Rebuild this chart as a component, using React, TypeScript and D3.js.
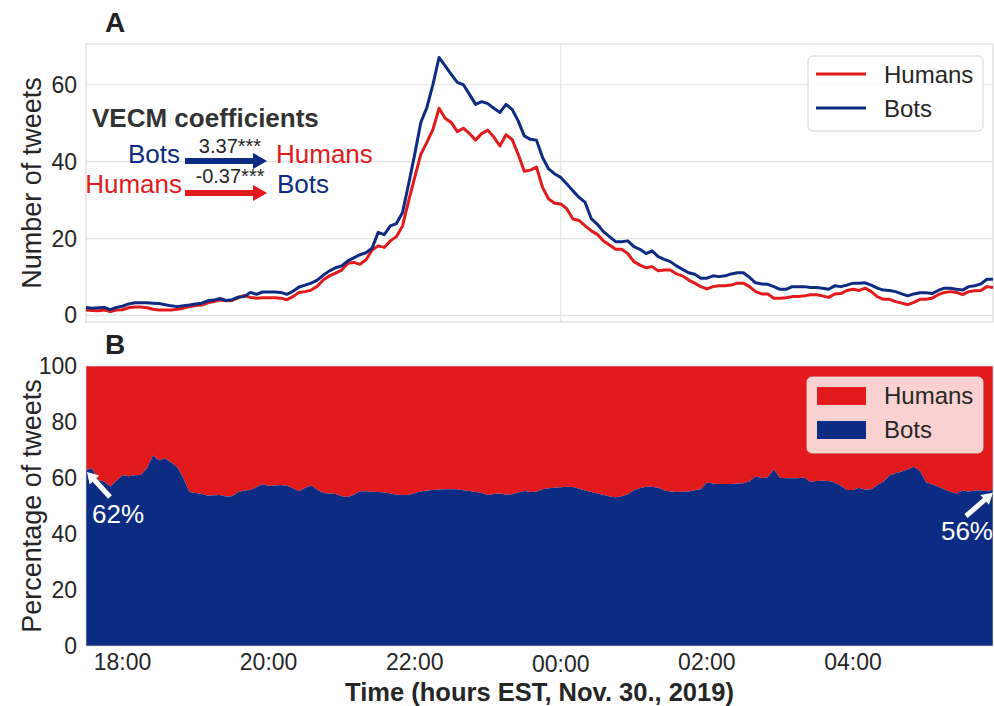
import React from 'react';
import * as d3 from 'd3';

// Panel A: number of tweets per 5-minute bin
const humans = [
  1.4, 1.3, 1.2, 1.4, 1.0, 1.4, 1.5, 2.0, 2.2, 2.2,
  2.0, 1.6, 1.4, 1.4, 1.4, 1.6, 1.9, 2.3, 2.6, 2.7,
  3.3, 3.6, 4.0, 3.8, 3.9, 4.6, 5.2, 4.7, 4.5, 4.6,
  4.6, 4.6, 4.5, 4.1, 4.9, 6.0, 6.2, 6.6, 7.6, 9.3,
  10.3, 11.0, 11.8, 13.6, 13.8, 13.3, 14.5, 17.0, 18.1, 17.7,
  19.4, 20.5, 23.3, 29.8, 35.9, 41.9, 45.0, 48.4, 53.9, 51.3,
  50.2, 47.8, 48.7, 47.3, 45.6, 47.3, 48.2, 46.4, 44.1, 47.0,
  45.8, 41.9, 37.5, 37.8, 38.6, 33.3, 30.3, 29.2, 29.0, 27.7,
  25.1, 24.7, 23.3, 22.0, 21.1, 19.4, 18.3, 17.2, 17.2, 16.1,
  14.0, 13.1, 12.4, 12.7, 11.6, 11.8, 11.8, 10.8, 10.3, 9.2,
  8.4, 7.5, 6.9, 7.5, 7.7, 7.7, 7.9, 8.4, 8.4, 7.5,
  6.2, 5.6, 5.6, 4.5, 4.5, 4.6, 4.9, 4.9, 5.1, 5.4,
  5.4, 5.1, 4.7, 5.6, 5.7, 6.5, 6.8, 6.5, 7.1, 6.2,
  4.9, 4.2, 4.2, 3.6, 3.2, 2.8, 3.4, 4.2, 4.2, 4.5,
  5.4, 6.0, 6.2, 6.0, 5.4, 6.2, 6.4, 6.5, 7.5, 7.3,
];

const bots = [
  2.1, 1.9, 2.0, 2.1, 1.5, 2.1, 2.4, 3.0, 3.3, 3.3,
  3.3, 3.2, 3.1, 2.8, 2.5, 2.3, 2.5, 2.7, 3.0, 3.2,
  3.8, 4.0, 4.4, 3.9, 4.1, 4.8, 4.9, 6.0, 5.5, 6.1,
  6.1, 6.1, 6.0, 5.5, 6.3, 7.4, 7.9, 8.4, 9.2, 10.5,
  11.6, 12.4, 12.9, 14.2, 15.0, 15.8, 16.3, 17.5, 21.6, 21.0,
  23.3, 23.9, 26.8, 34.2, 41.9, 50.2, 54.1, 60.1, 67.1, 64.9,
  62.7, 60.6, 60.0, 57.5, 54.9, 55.6, 55.1, 53.9, 52.8, 54.9,
  53.6, 50.6, 46.7, 45.8, 45.6, 41.1, 38.1, 36.8, 35.9, 34.2,
  32.4, 30.7, 29.4, 25.2, 23.7, 21.8, 20.5, 19.2, 19.2, 19.4,
  17.9, 17.2, 16.1, 16.8, 15.3, 14.6, 14.0, 12.9, 12.0, 11.1,
  10.7, 9.7, 9.7, 10.3, 10.1, 10.3, 10.8, 11.1, 11.1, 9.9,
  8.5, 8.2, 8.1, 7.5, 6.8, 6.8, 7.5, 7.5, 7.5, 7.3,
  7.3, 7.1, 6.8, 7.7, 7.5, 7.9, 8.4, 8.4, 8.5, 7.9,
  7.1, 6.6, 6.5, 6.2, 5.6, 5.1, 5.6, 5.9, 5.9, 5.7,
  6.5, 7.1, 7.1, 6.8, 6.6, 7.5, 7.7, 8.2, 9.4, 9.4,
];

// Panel B: percentage of tweets from bots (rest = humans)
const botsShare = [
  62.9, 63.5, 59.3, 58.7, 57.0, 59.0, 61.0, 60.6, 61.0, 61.1,
  63.5, 68.0, 66.3, 67.0, 65.5, 63.8, 59.9, 55.0, 54.6, 54.4,
  53.7, 53.8, 53.9, 53.4, 53.5, 55.0, 55.5, 55.7, 56.8, 57.8,
  57.2, 57.3, 57.5, 57.2, 56.3, 55.3, 56.5, 57.3, 55.8, 54.6,
  54.5, 54.3, 53.5, 53.2, 54.0, 55.3, 55.3, 55.1, 55.0, 54.8,
  54.5, 54.0, 53.9, 53.9, 54.6, 55.2, 55.5, 55.7, 55.9, 56.0,
  56.0, 56.0, 55.6, 55.4, 55.0, 54.6, 53.9, 54.3, 54.5, 54.0,
  54.2, 54.8, 55.4, 55.0, 55.1, 56.0, 56.3, 56.5, 56.7, 56.9,
  56.8, 56.2, 55.5, 55.0, 54.5, 54.0, 53.4, 53.1, 53.5, 54.2,
  55.6, 56.3, 56.9, 56.9, 56.5, 55.5, 55.2, 55.0, 55.1, 55.2,
  55.6, 56.0, 58.4, 58.0, 57.9, 57.9, 57.9, 58.0, 58.1, 58.8,
  60.5, 60.0, 60.3, 63.0, 60.1, 59.9, 59.9, 59.9, 60.2, 58.7,
  58.9, 59.0, 58.9, 58.4, 57.2, 55.7, 55.7, 56.5, 55.8, 56.0,
  57.5, 58.7, 61.0, 61.7, 62.3, 63.0, 64.0, 62.5, 58.5, 57.7,
  57.0, 55.9, 55.1, 54.5, 55.5, 55.2, 55.5, 55.6, 55.3, 55.8,
];

const yTicksA = [0, 20, 40, 60];
const yTicksB = [0, 20, 40, 60, 80, 100];
const seriesNames = ['Humans', 'Bots'];
const startTime = new Date(2019, 10, 30, 17, 30);
const stepMinutes = 5;
const times = humans.map((_, i) => d3.timeMinute.offset(startTime, i * stepMinutes));

const RED = '#e31a1c';
const BLUE = '#0c2c84';
const TXT = '#262626';
const FONT = '"Liberation Sans", Arial, Helvetica, sans-serif';

const W = 994;
const H = 706;
const LEFT = 86;
const RIGHT = 993;
const A_TOP = 44;
const A_BOTTOM = 322;
const B_TOP = 366;
const B_BOTTOM = 646;

function arrowPath(x1: number, y1: number, x2: number, y2: number, sw: number, hw: number, hl: number) {
  const dx = x2 - x1, dy = y2 - y1;
  const L = Math.hypot(dx, dy);
  const ux = dx / L, uy = dy / L;
  const px = -uy, py = ux;
  const bx = x2 - ux * hl, by = y2 - uy * hl;
  const pts = [
    [x1 + px * sw / 2, y1 + py * sw / 2],
    [bx + px * sw / 2, by + py * sw / 2],
    [bx + px * hw / 2, by + py * hw / 2],
    [x2, y2],
    [bx - px * hw / 2, by - py * hw / 2],
    [bx - px * sw / 2, by - py * sw / 2],
    [x1 - px * sw / 2, y1 - py * sw / 2],
  ];
  return 'M' + pts.map(p => p[0].toFixed(2) + ',' + p[1].toFixed(2)).join('L') + 'Z';
}

export default function App() {
  const x = d3.scaleTime().domain([times[0], times[times.length - 1]]).range([LEFT, RIGHT]);
  const yA = d3.scaleLinear().domain([-1.7, 70.6]).range([A_BOTTOM, A_TOP]);
  const yB = d3.scaleLinear().domain([0, 100]).range([B_BOTTOM, B_TOP]);

  const line = d3.line<number>().x((_, i) => x(times[i])).y(d => yA(d));
  const areaBots = d3.area<number>().x((_, i) => x(times[i])).y0(yB(0)).y1(d => yB(d));
  const areaHumans = d3.area<number>().x((_, i) => x(times[i])).y0(d => yB(d)).y1(yB(100));

  const xTicks = x.ticks(d3.timeHour.every(2) as any);
  const fmt = d3.timeFormat('%H:%M');
  const midnight = xTicks.filter(d => d.getHours() === 0);

  const n = times.length;
  const startTip = [x(times[0]) + 1, yB(botsShare[0]) + 2];
  const endTip = [x(times[n - 1]), yB(botsShare[n - 1]) + 3];

  return (
    <div style={{ position: 'absolute', left: 0, top: 0 }}>
      <svg width={W} height={H} viewBox={`0 0 ${W} ${H}`} style={{ display: 'block', background: '#fff' }} fontFamily={FONT}>
        <rect x={0} y={0} width={W} height={H} fill="#fff" />

        {/* ---------- Panel A ---------- */}
        <g>
          {yTicksA.map(t => (
            <line key={'ga' + t} x1={LEFT} x2={RIGHT} y1={yA(t)} y2={yA(t)} stroke="#e3e3e3" strokeWidth={1.2} />
          ))}
          {midnight.map((d, i) => (
            <line key={'gv' + i} x1={x(d)} x2={x(d)} y1={A_TOP} y2={A_BOTTOM} stroke="#e3e3e3" strokeWidth={1.2} />
          ))}
          <rect x={LEFT} y={A_TOP} width={RIGHT - LEFT} height={A_BOTTOM - A_TOP} fill="none" stroke="#dadada" strokeWidth={1.2} />
          <path d={line(humans) || ''} fill="none" stroke={RED} strokeWidth={3} strokeLinejoin="round" />
          <path d={line(bots) || ''} fill="none" stroke={BLUE} strokeWidth={3} strokeLinejoin="round" />
          {yTicksA.map(t => (
            <text key={'ta' + t} x={77} y={yA(t) + 8} textAnchor="end" fontSize={23} fill={TXT}>{t}</text>
          ))}
          <text transform={`translate(41,${(A_TOP + A_BOTTOM) / 2}) rotate(-90)`} textAnchor="middle" fontSize={27} fill={TXT}>Number of tweets</text>
          <text x={115} y={32} textAnchor="middle" fontSize={28} fontWeight="bold" fill="#222">A</text>

          {/* VECM annotation */}
          <text x={92} y={127} fontSize={26} fontWeight="bold" fill="#333">VECM coefficients</text>
          <text x={180} y={163} textAnchor="end" fontSize={26} fill={BLUE}>Bots</text>
          <path d={arrowPath(185, 161, 267, 161, 6, 16, 14)} fill={BLUE} />
          <text x={230} y={153} textAnchor="middle" fontSize={20} fill={TXT}>3.37***</text>
          <text x={276} y={163} fontSize={26} fill={RED}>Humans</text>
          <text x={182} y={193} textAnchor="end" fontSize={26} fill={RED}>Humans</text>
          <path d={arrowPath(185, 193, 267, 193, 6, 16, 14)} fill={RED} />
          <text x={230} y={183} textAnchor="middle" fontSize={20} fill={TXT}>-0.37***</text>
          <text x={277} y={193} fontSize={26} fill={BLUE}>Bots</text>

          {/* legend A */}
          <rect x={808} y={56} width={175} height={75} rx={5} fill="#fff" fillOpacity={0.8} stroke="#d4d4d4" strokeWidth={1} />
          {seriesNames.map((s, i) => (
            <g key={'la' + s}>
              <line x1={816} x2={866} y1={74 + i * 34} y2={74 + i * 34} stroke={i === 0 ? RED : BLUE} strokeWidth={3} />
              <text x={884} y={83 + i * 34} fontSize={24} fill={TXT}>{s}</text>
            </g>
          ))}
        </g>

        {/* ---------- Panel B ---------- */}
        <g>
          <path d={areaHumans(botsShare) || ''} fill={RED} />
          <path d={areaBots(botsShare) || ''} fill={BLUE} />
          <rect x={LEFT} y={B_TOP} width={RIGHT - LEFT} height={B_BOTTOM - B_TOP} fill="none" stroke="#e6e6e6" strokeOpacity={0.6} strokeWidth={1} />
          {yTicksB.map(t => (
            <text key={'tb' + t} x={77} y={yB(t) + 8} textAnchor="end" fontSize={23} fill={TXT}>{t}</text>
          ))}
          {xTicks.map((d, i) => (
            <text key={'tx' + i} x={x(d)} y={d.getHours() === 0 ? 672 : 670} textAnchor="middle" fontSize={23} fill={TXT}>{fmt(d)}</text>
          ))}
          <text transform={`translate(41,${(B_TOP + B_BOTTOM) / 2}) rotate(-90)`} textAnchor="middle" fontSize={27} fill={TXT}>Percentage of tweets</text>
          <text x={(LEFT + RIGHT) / 2} y={701} textAnchor="middle" fontSize={25.5} fontWeight="bold" fill={TXT}>Time (hours EST, Nov. 30., 2019)</text>
          <text x={115} y={354} textAnchor="middle" fontSize={28} fontWeight="bold" fill="#222">B</text>

          {/* legend B */}
          <rect x={807} y={377} width={176} height={76} rx={5} fill="#fff" fillOpacity={0.8} stroke="#e8e8e8" strokeOpacity={0.8} strokeWidth={1} />
          {seriesNames.map((s, i) => (
            <g key={'lb' + s}>
              <rect x={817} y={387 + i * 34} width={49} height={18} fill={i === 0 ? RED : BLUE} />
              <text x={884} y={404 + i * 34} fontSize={24} fill={TXT}>{s}</text>
            </g>
          ))}

          {/* share annotations */}
          <path d={arrowPath(110, 497, startTip[0], startTip[1], 5, 13, 11)} fill="#fff" />
          <text x={92} y={523} fontSize={26} fill="#fff">{`${Math.round(botsShare[0] - 1)}%`}</text>
          <path d={arrowPath(966, 516, endTip[0], endTip[1], 5, 13, 11)} fill="#fff" />
          <text x={993} y={540} textAnchor="end" fontSize={26} fill="#fff">{`${Math.round(botsShare[n - 1])}%`}</text>
        </g>
      </svg>
    </div>
  );
}
